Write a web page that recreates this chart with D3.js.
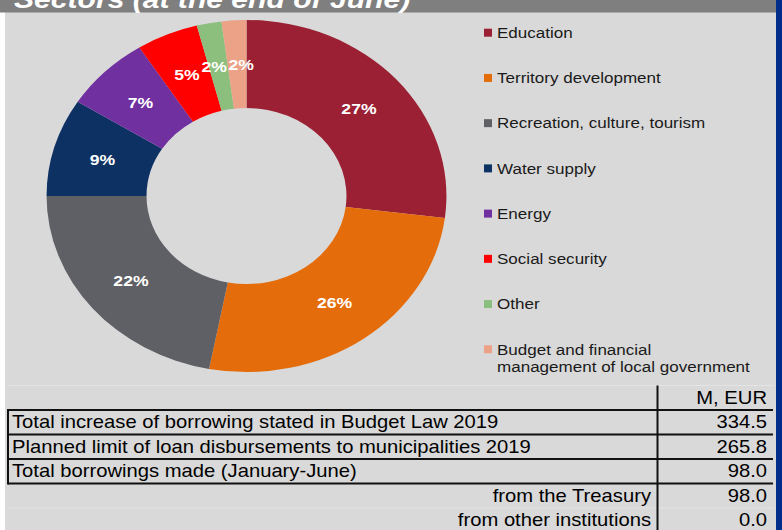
<!DOCTYPE html>
<html>
<head>
<meta charset="utf-8">
<script src="https://cdn.jsdelivr.net/npm/d3@7"></script>
<style>
  html, body { margin: 0; padding: 0; background: #ffffff; }
  svg { display: block; }
  text { font-family: "Liberation Sans", Arial, sans-serif; }
</style>
</head>
<body>
<svg id="chart" width="782" height="530"></svg>
<script>
// Loan structure by sector
const sectors = [
  "Education",
  "Territory development",
  "Recreation, culture, tourism",
  "Water supply",
  "Energy",
  "Social security",
  "Other",
  "Budget and financial management of local government"
];
const shares = [27, 26, 22, 9, 7, 5, 2, 2];
const sectorColors = ["#9b2034", "#e46c0a", "#5f6065", "#0e3163", "#7030a0", "#ff0000", "#8cbf7e", "#eba286"];

// Borrowing summary table
const tableHeader = "M, EUR";
const tableLabels = [
  "Total increase of borrowing stated in Budget Law 2019",
  "Planned limit of loan disbursements to municipalities 2019",
  "Total borrowings made (January-June)",
  "from the Treasury",
  "from other institutions"
];
const tableValues = [334.5, 265.8, 98.0, 98.0, 0.0];
const tableIndent = [false, false, false, true, true];

const titleText = "Sectors (at the end of June)";

const W = 782, H = 530;
const SX = 1.136; // horizontal stretch of the slide
const svg = d3.select("#chart");

// backgrounds
svg.append("rect").attr("x", 5).attr("y", 0).attr("width", 771).attr("height", H).attr("fill", "#d9d9d9");
svg.append("rect").attr("x", 0).attr("y", 0).attr("width", 776).attr("height", 12.5).attr("fill", "#7f7f7f");
svg.append("rect").attr("x", 776).attr("y", 0).attr("width", 6).attr("height", H).attr("fill", "#012d8a");

const g = svg.append("g").attr("transform", `scale(${SX},1)`);
const ux = x => x / SX; // page x -> stretched group x

// title
g.append("text")
  .attr("x", ux(14)).attr("y", 7.5)
  .attr("fill", "#ffffff")
  .attr("font-size", 26.5)
  .attr("font-weight", "bold")
  .attr("font-style", "italic")
  .text(titleText);

// donut
const cx = ux(246.5), cy = 196;
const rOuter = 176, rInner = 88;
const pie = d3.pie().sort(null).value(d => d)(shares);
const arc = d3.arc().innerRadius(rInner).outerRadius(rOuter);

const donut = g.append("g").attr("transform", `translate(${cx},${cy})`);
donut.selectAll("path")
  .data(pie)
  .join("path")
  .attr("d", arc)
  .attr("fill", (d, i) => sectorColors[i]);

// value labels at slice centroids, spreading neighbours that collide
const labelPos = pie.map(d => arc.centroid(d));
const minGap = 27 / SX;
for (let i = labelPos.length - 1; i > 0; i--) {
  const a = labelPos[i - 1], b = labelPos[i];
  if (Math.abs(a[1] - b[1]) < 14 && b[0] - a[0] < minGap) {
    const push = (minGap - (b[0] - a[0])) / 2;
    a[0] -= push; b[0] += push;
  }
}
donut.selectAll("text.val")
  .data(pie)
  .join("text")
  .attr("class", "val")
  .attr("x", (d, i) => labelPos[i][0])
  .attr("y", (d, i) => labelPos[i][1])
  .attr("dy", "0.36em")
  .attr("text-anchor", "middle")
  .attr("fill", "#ffffff")
  .attr("font-size", 15.5)
  .attr("font-weight", "bold")
  .text(d => d.data + "%");

// legend
const legendY = d3.scalePoint().domain(d3.range(sectors.length)).range([32.7, 349.3]);
const legend = g.append("g");
const items = legend.selectAll("g.item")
  .data(sectors)
  .join("g")
  .attr("class", "item")
  .attr("transform", (d, i) => `translate(0,${legendY(i)})`);
items.append("rect")
  .attr("x", ux(484)).attr("y", -4)
  .attr("width", 8 / SX).attr("height", 8)
  .attr("fill", (d, i) => sectorColors[i]);
items.each(function (d) {
  const words = d.split(" ");
  const lines = d.length > 30 ? [words.slice(0, 3).join(" "), words.slice(3).join(" ")] : [d];
  const t = d3.select(this).append("text")
    .attr("x", ux(497)).attr("y", 0)
    .attr("font-size", 15)
    .attr("fill", "#1a1a1a");
  lines.forEach((ln, k) => {
    t.append("tspan").attr("x", ux(497)).attr("dy", k === 0 ? "0.35em" : 17.4).text(ln);
  });
});

// table
const rowTop = 385.5, rowH = 24.5;
const tableLeft = 8, tableRight = 773, divX = 657.5;
const rows = [tableHeader].concat(tableLabels);
const rowY = i => rowTop + i * rowH;

// faint row separators
svg.append("g").selectAll("line")
  .data(d3.range(rows.length + 1))
  .join("line")
  .attr("x1", tableLeft).attr("x2", tableRight)
  .attr("y1", i => rowY(i)).attr("y2", i => rowY(i))
  .attr("stroke", "#e4e4e4").attr("stroke-width", 1);

// bold frame round the three main rows
const frame = svg.append("g").attr("stroke", "#111").attr("stroke-width", 2);
frame.selectAll("line.h")
  .data(d3.range(1, 5))
  .join("line")
  .attr("class", "h")
  .attr("x1", tableLeft).attr("x2", tableRight)
  .attr("y1", i => rowY(i)).attr("y2", i => rowY(i));
frame.append("line").attr("x1", tableLeft).attr("x2", tableLeft).attr("y1", rowY(1) - 1).attr("y2", rowY(4) + 1);
frame.append("line").attr("x1", divX).attr("x2", divX).attr("y1", rowTop).attr("y2", H);

const fmt = d3.format(".1f");
const tg = g.append("g").attr("font-size", 17.8).attr("fill", "#000");
tg.append("text")
  .attr("x", ux(767)).attr("y", rowY(1) - 6)
  .attr("text-anchor", "end")
  .text(tableHeader);
tg.selectAll("text.lab")
  .data(tableLabels)
  .join("text")
  .attr("class", "lab")
  .attr("x", (d, i) => tableIndent[i] ? ux(651) : ux(12))
  .attr("y", (d, i) => rowY(i + 2) - 6)
  .attr("text-anchor", (d, i) => tableIndent[i] ? "end" : "start")
  .text(d => d);
tg.selectAll("text.num")
  .data(tableValues)
  .join("text")
  .attr("class", "num")
  .attr("x", ux(767))
  .attr("y", (d, i) => rowY(i + 2) - 6)
  .attr("text-anchor", "end")
  .text(d => fmt(d));
</script>
</body>
</html>
